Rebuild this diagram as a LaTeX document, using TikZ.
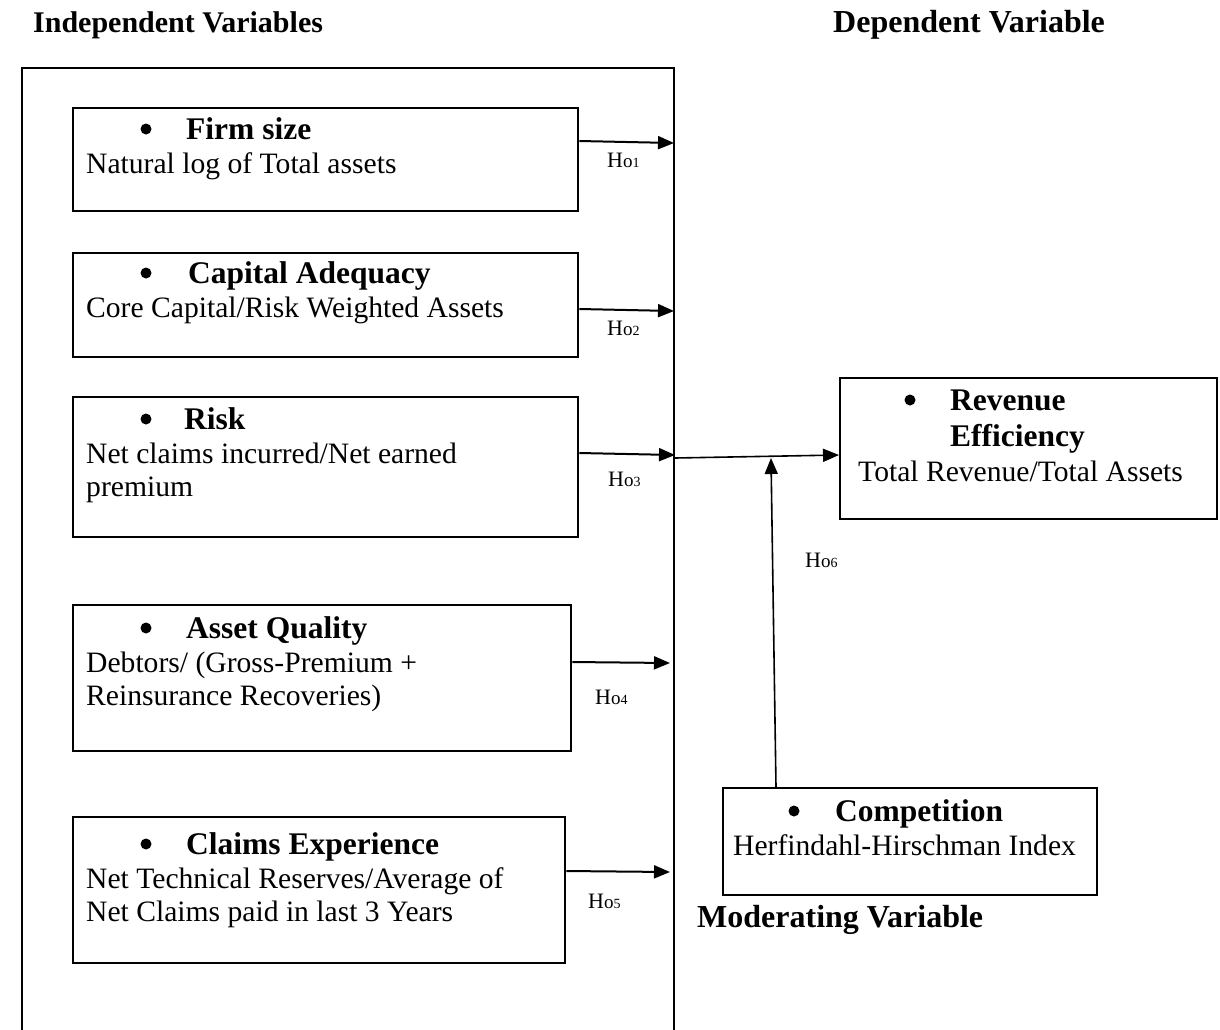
\documentclass[tikz,border=0pt]{standalone}
\usepackage{fontspec}
\setmainfont{Liberation Serif}
\usetikzlibrary{arrows.meta,calc}
\newcommand\hyplabel[1]{H{\fontsize{19}{19}\selectfont o}{\fontsize{14}{14}\selectfont #1}}
\begin{document}
\begin{tikzpicture}[x=1pt,y=-1pt,
  box/.style={draw,line width=2.4pt,anchor=north west,inner sep=0pt},
  hd/.style={anchor=base west,inner sep=0pt,font=\fontsize{31.5}{36}\selectfont\bfseries},
  tx/.style={anchor=base west,inner sep=0pt,font=\fontsize{29.6}{34}\selectfont},
  lbl/.style={anchor=base west,inner sep=0pt,font=\fontsize{22}{26}\selectfont},
  arr/.style={line width=2pt,-{Triangle[length=16pt,width=13pt]}},
  thinarr/.style={line width=1.6pt,-{Triangle[length=16pt,width=13pt]}},
  bul/.style={circle,fill,inner sep=0pt,minimum size=11pt}]
\useasboundingbox (0,0) rectangle (1220,1029);

% titles
\node[hd,font=\fontsize{30}{36}\selectfont\bfseries] (tind) at (33,32) {Independent Variables};
\node[hd,font=\fontsize{32}{36}\selectfont\bfseries] (tdep) at (833,32) {Dependent Variable};

% outer frame (open at the bottom)
\coordinate (obl) at (22,1035);
\coordinate (otl) at (22,68);
\coordinate (otr) at (674,68);
\coordinate (obr) at (674,1035);
\draw[line width=2.4pt] (obl) -- (otl) -- (otr) -- (obr);

% boxes
\node[box,minimum width=505pt,minimum height=103pt] (firm) at (72,107) {};
\node[box,minimum width=505pt,minimum height=104pt] (cap) at (72,252) {};
\node[box,minimum width=505pt,minimum height=140pt] (risk) at (72,396) {};
\node[box,minimum width=498pt,minimum height=146pt] (asset) at (72,604) {};
\node[box,minimum width=492pt,minimum height=146pt] (claims) at (72,816) {};
\node[box,minimum width=377pt,minimum height=141pt] (rev) at (839,377) {};
\node[box,minimum width=374pt,minimum height=107pt] (comp) at (722,787) {};

% firm size
\node[bul] (b1) at (146,129) {};
\node[hd] (h1) at (186,139) {Firm size};
\node[tx] (t1) at (86,173) {Natural log of Total assets};
% capital adequacy
\node[bul] (b2) at (146,273) {};
\node[hd] (h2) at (188,283) {Capital Adequacy};
\node[tx] (t2) at (86,317) {Core Capital/Risk Weighted Assets};
% risk
\node[bul] (b3) at (146,419) {};
\node[hd] (h3) at (184,429) {Risk};
\node[tx] (t3a) at (86,463) {Net claims incurred/Net earned};
\node[tx] (t3b) at (86,496) {premium};
% asset quality
\node[bul] (b4) at (146,628) {};
\node[hd] (h4) at (186,638) {Asset Quality};
\node[tx] (t4a) at (86,672) {Debtors/ (Gross-Premium +};
\node[tx] (t4b) at (86,705) {Reinsurance Recoveries)};
% claims experience
\node[bul] (b5) at (146,844) {};
\node[hd] (h5) at (186,854) {Claims Experience};
\node[tx] (t5a) at (86,888) {Net Technical Reserves/Average of};
\node[tx] (t5b) at (86,921) {Net Claims paid in last 3 Years};
% revenue efficiency
\node[bul] (b6) at (910,400) {};
\node[hd] (h6a) at (950,410) {Revenue};
\node[hd] (h6b) at (950,446) {Efficiency};
\node[tx] (t6) at (858,481) {Total Revenue/Total Assets};
% competition
\node[bul] (b7) at (794,811) {};
\node[hd] (h7) at (835,821) {Competition};
\node[tx] (t7) at (733,855) {Herfindahl-Hirschman Index};
\node[hd,font=\fontsize{32}{36}\selectfont\bfseries] (tmod) at (697,927) {Moderating Variable};

% arrow end points on the frame
\coordinate (e1) at (674,143);
\coordinate (e2) at (674,311);
\coordinate (e3) at (675,455);
\coordinate (e4) at (670,663);
\coordinate (e5) at (670,872);
\coordinate (j3) at (675,458);
\coordinate (j6) at (771,458);

\draw[arr] ($(firm.north east)+(0,34)$) -- (e1);
\draw[arr] ($(cap.north east)+(0,57)$) -- (e2);
\draw[arr] ($(risk.north east)+(0,57)$) -- (e3);
\draw[arr] ($(asset.north east)+(0,58)$) -- (e4);
\draw[arr] ($(claims.north east)+(0,55)$) -- (e5);
\draw[thinarr] (j3) -- (rev.west |- 0,455);
\draw[thinarr] ($(comp.north west)+(54,0)$) -- (j6);

% hypothesis labels
\node[lbl] (l1) at (607,167) {\hyplabel{1}};
\node[lbl] (l2) at (607,335) {\hyplabel{2}};
\node[lbl] (l3) at (608,486) {\hyplabel{3}};
\node[lbl] (l4) at (595,704) {\hyplabel{4}};
\node[lbl] (l5) at (588,908) {\hyplabel{5}};
\node[lbl] (l6) at (805,567) {\hyplabel{6}};
\end{tikzpicture}
\end{document}
